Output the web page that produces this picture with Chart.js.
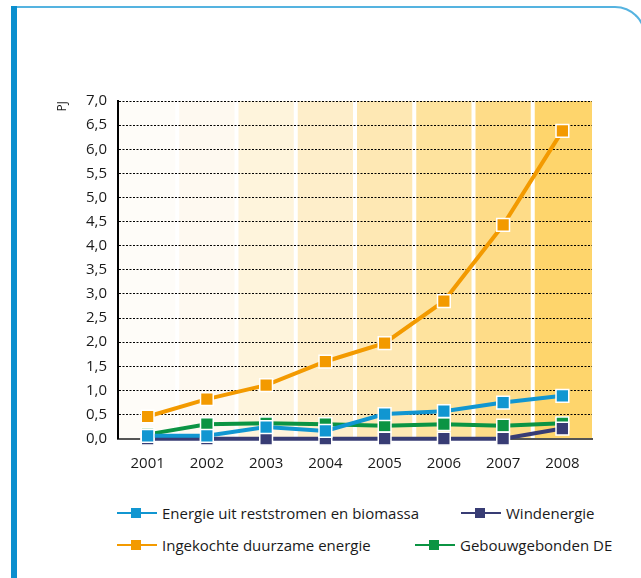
<!DOCTYPE html>
<html>
<head>
<meta charset="utf-8">
<script src="https://cdn.jsdelivr.net/npm/chart.js@4"></script>
<style>
  html, body { margin: 0; padding: 0; background: #fff; }
  body { width: 641px; height: 578px; position: relative; overflow: hidden; font-family: "Open Sans", sans-serif; color: #1a1a1a; }
  .bar { position: absolute; left: 11px; top: 6px; width: 6px; height: 580px; background: #0b8fce; }
  .frame { position: absolute; left: 17px; top: 6px; width: 629px; height: 600px; box-sizing: border-box;
           border-top: 2px solid #55b3e0; border-right: 2px solid #55b3e0; border-top-right-radius: 31px; }
  .chart-box { position: absolute; left: 0; top: 0; width: 641px; height: 480px; }
  .legend-item { position: absolute; display: flex; align-items: center; font-size: 15px; white-space: nowrap; }
  .legend-item .key { position: relative; width: 40px; height: 12px; margin-right: 5px; }
  .legend-item .key .ln { position: absolute; left: 0; right: 0; top: 5px; height: 2px; }
  .legend-item .key .sq { position: absolute; left: 14px; top: 1px; width: 10px; height: 10px; }
</style>
</head>
<body>
<div class="bar"></div>
<div class="frame"></div>
<div class="chart-box"><canvas id="chart"></canvas></div>
<div id="legend"></div>

<script>
const years = ['2001', '2002', '2003', '2004', '2005', '2006', '2007', '2008'];

const reststromen = [0.06, 0.06, 0.24, 0.16, 0.51, 0.57, 0.75, 0.89];
const wind = [0, 0, 0, 0, 0, 0, 0, 0.21];
const ingekocht = [0.46, 0.82, 1.11, 1.60, 1.98, 2.85, 4.43, 6.38];
const gebouw = [0.09, 0.30, 0.32, 0.30, 0.27, 0.30, 0.27, 0.32];

const yTicks = [0, 0.5, 1, 1.5, 2, 2.5, 3, 3.5, 4, 4.5, 5, 5.5, 6, 6.5, 7];

const bandColors = ['#fefcf8', '#fef9f0', '#fef4dc', '#feeeca', '#fee8b4', '#fee39e', '#fedc88', '#fed56c'];

const colBlue = '#1196d1';
const colNavy = '#383c74';
const colOrange = '#f39a00';
const colGreen = '#0b9443';

// background bands per year, drawn under the grid
const bandsPlugin = {
    id: 'bands',
    beforeDraw(chart){
        const {ctx, chartArea, scales} = chart;
        const x = scales.x;
        const half = (x.getPixelForValue(1) - x.getPixelForValue(0)) / 2;
        ctx.save();
        years.forEach((y, i) => {
            const c = x.getPixelForValue(i);
            const l = i === 0 ? chartArea.left : c - half + 2;
            const r = i === years.length - 1 ? chartArea.right : c + half - 2;
            ctx.fillStyle = bandColors[i];
            ctx.fillRect(l, chartArea.top, r - l, chartArea.bottom - chartArea.top);
        });
        ctx.restore();
    }
};

function lineSet(label, data, color){
    return {
        label: label,
        data: data,
        borderColor: color,
        backgroundColor: color,
        borderWidth: 4,
        pointStyle: 'rect',
        pointRadius: 9,
        pointBorderColor: '#fff',
        pointBorderWidth: 1.5,
        pointBackgroundColor: color,
        tension: 0,
        clip: false
    };
}

// first dataset is drawn on top
const datasets = [
    lineSet('Ingekochte duurzame energie', ingekocht, colOrange),
    lineSet('Energie uit reststromen en biomassa', reststromen, colBlue),
    lineSet('Windenergie', wind, colNavy),
    lineSet('Gebouwgebonden DE', gebouw, colGreen)
];

new Chart(document.getElementById('chart'), {
    type: 'line',
    data: { labels: years, datasets: datasets },
    plugins: [bandsPlugin],
    options: {
        responsive: true,
        maintainAspectRatio: false,
        animation: false,
        layout: { padding: { left: 55, right: 49, top: 101, bottom: 0 } },
        plugins: { legend: { display: false }, tooltip: { enabled: false } },
        scales: {
            x: {
                offset: true,
                grid: { display: false, drawTicks: false },
                border: { display: true, color: '#555', width: 2 },
                ticks: { color: '#1a1a1a', padding: 16, font: { size: 15, family: 'Open Sans' } },
                afterFit(scale){ scale.height = 41.3; }
            },
            y: {
                min: 0,
                max: 7,
                afterBuildTicks(scale){ scale.ticks = yTicks.map(v => ({value: v})); },
                grid: { color: '#000', lineWidth: 1, drawTicks: false },
                border: { display: true, color: '#000', width: 2, dash: [2, 1.5] },
                ticks: {
                    color: '#1a1a1a',
                    padding: 11,
                    font: { size: 15, family: 'Open Sans' },
                    callback: v => v.toFixed(1).replace('.', ',')
                },
                title: {
                    display: true,
                    text: 'PJ',
                    align: 'end',
                    color: '#1a1a1a',
                    padding: 0,
                    font: { size: 12, family: 'Open Sans' }
                },
                afterFit(scale){ scale.width = 63; }
            }
        }
    }
});

// legend, two columns like the reference
const legendItems = [
    { text: 'Energie uit reststromen en biomassa', color: colBlue, left: 117, top: 513 },
    { text: 'Windenergie', color: colNavy, left: 461, top: 513 },
    { text: 'Ingekochte duurzame energie', color: colOrange, left: 117, top: 545 },
    { text: 'Gebouwgebonden DE', color: colGreen, left: 415, top: 545 }
];
const legend = document.getElementById('legend');
legendItems.forEach(item => {
    const el = document.createElement('div');
    el.className = 'legend-item';
    el.style.left = item.left + 'px';
    el.style.top = (item.top - 10) + 'px';
    el.style.height = '20px';
    el.innerHTML = `<span class="key"><span class="ln" style="background:${item.color}"></span>` +
        `<span class="sq" style="background:${item.color}"></span></span><span>${item.text}</span>`;
    legend.appendChild(el);
});
</script>
</body>
</html>
